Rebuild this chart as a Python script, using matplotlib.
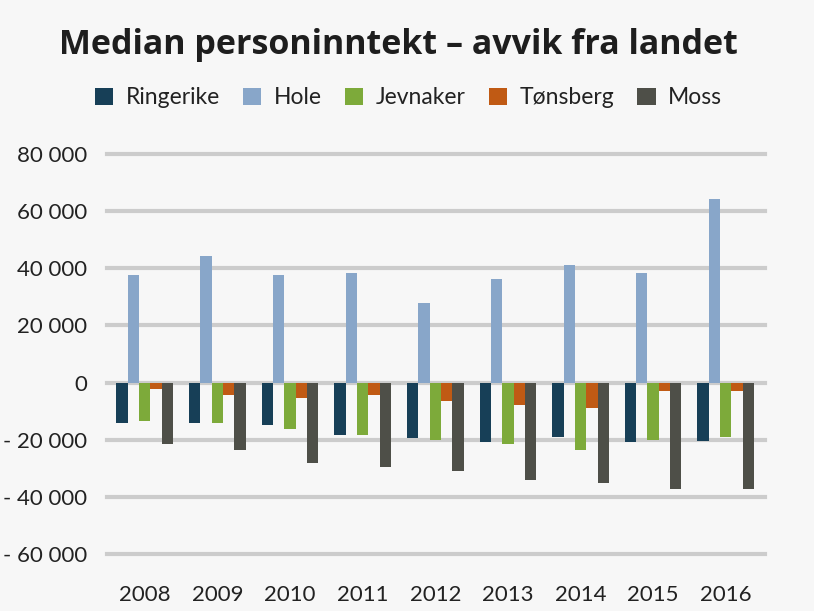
import matplotlib
matplotlib.use('Agg')
from matplotlib import pyplot as plt
from matplotlib.ticker import FuncFormatter
import numpy as np

years = ['2008', '2009', '2010', '2011', '2012', '2013', '2014', '2015', '2016']
series = ['Ringerike', 'Hole', 'Jevnaker', 'Tønsberg', 'Moss']
ringerike = [-14100, -14100, -14700, -18200, -19300, -20700, -19200, -20700, -20600]
hole = [37700, 44200, 37700, 38200, 27700, 36100, 41000, 38400, 64300]
jevnaker = [-13300, -14200, -16400, -18200, -20000, -21600, -23600, -20000, -18900]
tonsberg = [-2300, -4500, -5400, -4500, -6500, -7700, -8900, -2900, -2800]
moss = [-21400, -23600, -28200, -29400, -31000, -34000, -35300, -37300, -37300]
colors = ['#173f57', '#88a6c9', '#7daa3a', '#c05a14', '#4e4f48']

bg = '#f7f7f7'
plt.rcParams['font.family'] = ['Lato', 'DejaVu Sans']

fig = plt.figure(figsize=(8.14, 6.11), dpi=100, facecolor=bg)
ax = fig.add_axes([107/814, 57/611, 658/814, 400/611], facecolor=bg)

x = np.arange(len(years))
w = 0.156
for i, (name, vals) in enumerate(zip(series, [ringerike, hole, jevnaker, tonsberg, moss])):
    ax.bar(x + (i - 2) * w, vals, w, color=colors[i], label=name, zorder=3)

ax.set_xlim(-0.52, 8.54)
ax.set_ylim(-60000, 80000)
ax.set_yticks(range(-60000, 80001, 20000))
ax.set_xticks(x)
ax.set_xticklabels(years)

def fmt(v, pos):
    v = int(round(v))
    if v == 0:
        return '0'
    s = f'{abs(v):,}'.replace(',', ' ')
    return ('- ' if v < 0 else '') + s

ax.yaxis.set_major_formatter(FuncFormatter(fmt))
ax.grid(axis='y', color='#cccccc', linewidth=3, zorder=0)
for gl in ax.yaxis.get_gridlines():
    gl.set_clip_on(False)
ax.tick_params(axis='both', length=0, labelsize=16, colors='#222222')
ax.tick_params(axis='y', pad=14)
ax.tick_params(axis='x', pad=22)
for s in ax.spines.values():
    s.set_visible(False)

fig.text(0.49, 0.926, 'Median personinntekt – avvik fra landet', ha='center', va='center',
         fontsize=24.5, fontweight='bold', color='#1e1e1e', family=['Open Sans', 'DejaVu Sans'])

fig.legend(loc='center', bbox_to_anchor=(0.502, 0.84), ncol=5, frameon=False,
           fontsize=16.5, handlelength=0.8, handleheight=0.8, handletextpad=0.55,
           columnspacing=1.0, labelcolor='#222222')

fig.savefig('out.png', dpi=100, facecolor=bg)
